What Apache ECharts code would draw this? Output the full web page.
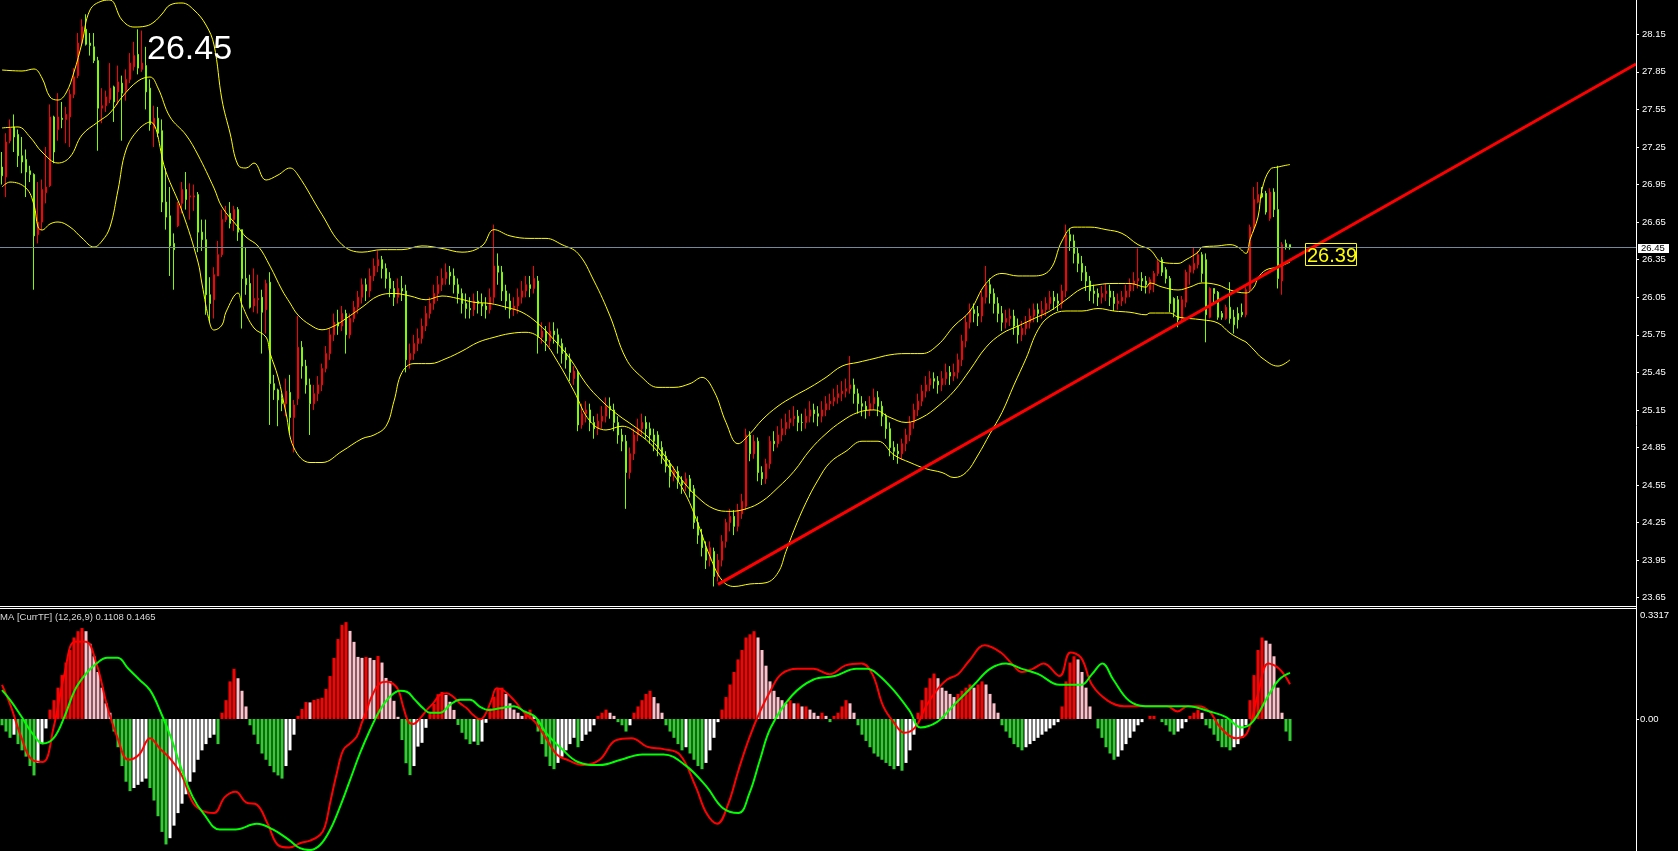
<!DOCTYPE html>
<html><head><meta charset="utf-8">
<script src="https://cdn.jsdelivr.net/npm/echarts@6/dist/echarts.min.js"></script>
<style>html,body{margin:0;padding:0;background:#000;overflow:hidden}#c{width:1678px;height:851px;}</style>
</head><body><div id="c"></div>
<script>
// candles: [open, close, low, high]
const candles = [
[27.09,27.02,26.95,27.21],[27.01,27.29,26.85,27.36],[27.30,27.40,27.28,27.47],[27.41,27.33,27.21,27.51],[27.35,27.18,27.09,27.39],
[27.18,27.13,27.04,27.33],[27.15,27.05,26.85,27.23],[27.06,27.03,26.97,27.10],[27.03,26.54,26.11,27.04],[26.55,26.65,26.48,26.97],
[26.65,26.91,26.59,26.99],[26.885,26.93,26.80,27.25],[26.94,27.49,26.93,27.59],[27.49,27.21,27.12,27.50],[27.39,27.49,27.30,27.68],
[27.48,27.47,27.40,27.61],[27.47,27.51,27.28,27.57],[27.49,27.67,27.25,27.71],[27.67,27.81,27.64,27.88],[27.82,28.08,27.80,28.16],
[28.08,28.21,28.06,28.27],[28.19,28.07,28.06,28.31],[28.08,28.06,27.98,28.16],[28.05,27.94,27.92,28.16],[27.94,27.56,27.22,27.97],
[27.56,27.58,27.44,27.72],[27.58,27.65,27.53,27.70],[27.63,27.72,27.60,27.92],[27.73,27.61,27.45,27.74],[27.69,27.77,27.59,27.90],
[27.76,27.68,27.30,27.82],[27.70,27.79,27.62,27.87],[27.79,27.92,27.76,28.00],[27.89,27.98,27.86,28.09],[27.99,27.88,27.83,28.19],
[27.87,27.92,27.85,28.18],[27.90,27.69,27.55,28.05],[27.72,27.43,27.38,27.79],[27.40,27.48,27.25,27.58],[27.48,27.36,27.33,27.57],
[27.38,26.81,26.73,27.47],[26.81,26.69,26.59,27.08],[26.70,26.46,26.22,26.93],[26.48,26.43,26.11,26.56],[26.62,26.79,26.61,26.81],
[26.80,26.91,26.72,26.97],[26.91,26.83,26.75,27.05],[26.85,26.86,26.67,26.96],[26.85,26.86,26.74,26.95],[26.87,26.57,26.41,26.89],
[26.57,26.51,26.42,26.67],[26.51,26.07,25.91,26.67],[26.07,26.00,25.85,26.21],[26.03,26.23,25.88,26.29],[26.22,26.39,26.22,26.50],
[26.39,26.67,26.37,26.75],[26.67,26.70,26.65,26.78],[26.72,26.64,26.60,26.81],[26.67,26.75,26.58,26.78],[26.75,26.57,26.50,26.77],
[26.59,26.20,25.80,26.59],[26.20,26.15,26.07,26.45],[26.16,25.97,25.96,26.23],[25.98,26.04,25.93,26.28],[26.03,26.04,25.92,26.23],
[26.05,25.93,25.60,26.11],[25.95,26.16,25.76,26.19],[26.17,25.36,25.03,26.25],[25.36,25.31,25.23,25.43],[25.31,25.23,25.02,25.32],
[25.24,25.20,25.14,25.28],[25.20,25.30,25.10,25.40],[25.29,25.09,24.96,25.43],[25.09,25.19,24.81,25.23],[25.24,25.65,25.19,25.90],
[25.65,25.50,25.40,25.70],[25.50,25.35,25.28,25.55],[25.35,25.20,24.95,25.40],[25.20,25.28,25.15,25.35],[25.28,25.35,25.22,25.42],
[25.35,25.48,25.30,25.52],[25.48,25.60,25.45,25.66],[25.60,25.75,25.55,25.80],[25.75,25.85,25.70,25.92],[25.85,25.82,25.75,25.95],
[25.82,25.92,25.78,25.98],[25.92,25.75,25.60,25.95],[25.75,25.88,25.72,25.92],[25.88,25.97,25.85,26.02],[25.97,26.05,25.92,26.10],
[26.05,26.15,26.00,26.20],[26.15,26.10,26.02,26.20],[26.10,26.22,26.05,26.28],[26.22,26.30,26.18,26.36],[26.30,26.35,26.25,26.42],
[26.35,26.28,26.20,26.38],[26.28,26.20,26.12,26.32],[26.20,26.12,26.05,26.25],[26.12,26.05,25.98,26.18],[26.05,26.12,26.00,26.20],
[26.12,26.10,26.02,26.22],[26.10,25.55,25.45,26.15],[25.55,25.60,25.48,25.68],[25.60,25.68,25.55,25.75],[25.68,25.72,25.62,25.80],
[25.72,25.82,25.68,25.88],[25.82,25.92,25.78,25.98],[25.92,26.00,25.88,26.05],[26.00,26.08,25.95,26.15],[26.08,26.15,26.02,26.22],
[26.15,26.20,26.10,26.28],[26.20,26.25,26.15,26.32],[26.25,26.22,26.15,26.30],[26.22,26.15,26.08,26.28],[26.15,26.08,26.00,26.20],
[26.08,26.00,25.92,26.12],[26.00,25.96,25.88,26.08],[25.96,25.95,25.88,26.05],[25.95,26.02,25.90,26.08],[26.02,26.00,25.92,26.10],
[26.00,25.98,25.90,26.08],[25.98,25.95,25.88,26.05],[25.95,26.05,25.92,26.12],[26.05,26.30,26.00,26.63],[26.30,26.25,26.15,26.40],
[26.25,26.10,26.02,26.30],[26.10,26.02,25.95,26.15],[26.02,25.95,25.88,26.08],[25.95,25.98,25.90,26.05],[25.98,26.05,25.92,26.12],
[26.05,26.10,26.00,26.18],[26.10,26.15,26.05,26.22],[26.15,26.12,26.05,26.22],[26.12,26.20,26.08,26.30],[26.18,25.73,25.60,26.22],
[25.73,25.78,25.68,25.85],[25.78,25.70,25.62,25.82],[25.70,25.78,25.65,25.85],[25.78,25.75,25.68,25.85],[25.75,25.68,25.60,25.80],
[25.68,25.60,25.52,25.72],[25.60,25.55,25.48,25.65],[25.55,25.45,25.38,25.60],[25.40,25.46,25.35,25.50],[25.45,25.03,24.98,25.47],
[25.03,25.12,25.00,25.20],[25.12,25.15,25.05,25.22],[25.15,25.05,24.98,25.20],[25.05,25.00,24.92,25.10],[25.00,25.06,24.95,25.12],
[25.06,25.10,25.00,25.18],[25.10,25.18,25.05,25.25],[25.18,25.15,25.08,25.25],[25.15,25.05,24.98,25.20],[25.05,24.95,24.88,25.10],
[24.95,24.90,24.82,25.00],[24.90,24.65,24.36,24.95],[24.65,24.80,24.60,24.85],[24.80,24.95,24.75,25.00],[24.95,25.00,24.90,25.08],
[25.00,25.05,24.95,25.12],[25.05,25.00,24.92,25.10],[25.00,24.95,24.88,25.05],[24.95,24.90,24.82,25.00],[24.95,24.85,24.78,24.98],
[24.85,24.78,24.72,24.90],[24.78,24.70,24.65,24.82],[24.72,24.62,24.53,24.75],[24.62,24.66,24.58,24.70],[24.66,24.58,24.52,24.70],
[24.58,24.55,24.48,24.62],[24.55,24.60,24.50,24.65],[24.60,24.50,24.45,24.63],[24.52,24.25,24.20,24.55],[24.25,24.15,24.08,24.30],
[24.15,24.05,23.98,24.20],[24.05,23.95,23.88,24.10],[23.95,24.05,23.90,24.10],[24.02,23.82,23.74,24.05],[23.82,23.95,23.78,24.00],
[23.95,24.10,23.90,24.15],[24.10,24.25,24.05,24.28],[24.25,24.30,24.18,24.36],[24.30,24.22,24.15,24.35],[24.22,24.35,24.18,24.40],
[24.32,24.42,24.28,24.48],[24.38,24.95,24.35,25.00],[24.95,24.80,24.74,24.98],[24.80,24.90,24.76,24.95],[24.90,24.65,24.58,24.93],
[24.65,24.60,24.55,24.70],[24.60,24.72,24.56,24.76],[24.72,24.90,24.68,24.94],[24.90,24.88,24.82,24.98],[24.88,24.95,24.85,25.02],
[24.95,25.00,24.90,25.08],[25.00,25.05,24.95,25.12],[25.05,25.08,25.00,25.15],[25.08,25.10,25.02,25.18],[25.10,25.05,24.98,25.15],
[25.05,25.05,24.98,25.12],[25.05,25.10,25.00,25.16],[25.10,25.15,25.05,25.22],[25.15,25.12,25.05,25.20],[25.12,25.10,25.02,25.18],
[25.10,25.15,25.05,25.22],[25.15,25.20,25.10,25.26],[25.20,25.22,25.15,25.28],[25.22,25.25,25.18,25.32],[25.25,25.28,25.20,25.35],
[25.28,25.30,25.22,25.38],[25.30,25.32,25.25,25.40],[25.32,25.35,25.28,25.58],[25.35,25.28,25.20,25.40],[25.28,25.20,25.12,25.32],
[25.20,25.18,25.10,25.26],[25.18,25.15,25.08,25.22],[25.15,25.20,25.10,25.26],[25.20,25.25,25.15,25.32],[25.25,25.18,25.10,25.30],
[25.18,25.10,25.02,25.22],[25.10,25.00,24.92,25.12],[25.00,24.85,24.78,25.05],[24.85,24.82,24.75,24.90],[24.82,24.80,24.72,24.88],
[24.80,24.88,24.75,24.92],[24.88,24.95,24.82,25.00],[24.95,25.05,24.90,25.10],[25.05,25.15,25.00,25.20],[25.15,25.22,25.10,25.28],
[25.22,25.30,25.18,25.35],[25.30,25.35,25.25,25.42],[25.35,25.40,25.30,25.46],[25.40,25.38,25.32,25.45],[25.38,25.35,25.28,25.42],
[25.35,25.40,25.30,25.46],[25.40,25.45,25.35,25.52],[25.45,25.42,25.35,25.50],[25.42,25.45,25.38,25.52],[25.45,25.55,25.40,25.60],
[25.55,25.70,25.50,25.75],[25.70,25.85,25.65,25.90],[25.85,25.95,25.80,26.00],[25.95,25.92,25.85,26.00],[25.92,25.90,25.82,25.98],
[25.90,26.05,25.85,26.10],[26.05,26.15,26.00,26.30],[26.15,26.08,26.00,26.20],[26.08,26.00,25.92,26.12],[26.00,25.92,25.85,26.05],
[25.92,25.85,25.78,25.98],[25.85,25.88,25.80,25.95],[25.88,25.90,25.82,25.96],[25.90,25.82,25.75,25.95],[25.82,25.75,25.68,25.88],
[25.75,25.80,25.70,25.86],[25.80,25.85,25.75,25.90],[25.85,25.90,25.80,25.96],[25.90,25.95,25.85,26.00],[25.95,25.92,25.85,26.00],
[25.92,25.95,25.88,26.02],[25.95,26.00,25.90,26.05],[26.00,26.05,25.95,26.10],[26.05,26.02,25.95,26.10],[26.02,26.00,25.94,26.08],
[26.00,26.10,25.96,26.15],[26.10,26.55,26.05,26.63],[26.55,26.50,26.42,26.60],[26.50,26.40,26.32,26.55],[26.40,26.32,26.25,26.45],
[26.32,26.25,26.18,26.38],[26.25,26.18,26.10,26.30],[26.18,26.10,26.02,26.22],[26.10,26.08,26.00,26.15],[26.08,26.05,25.98,26.12],
[26.05,26.08,26.00,26.14],[26.08,26.10,26.02,26.16],[26.10,26.05,25.98,26.15],[26.05,26.00,25.94,26.10],[26.00,26.02,25.95,26.08],
[26.02,26.05,25.98,26.10],[26.05,26.10,26.00,26.15],[26.10,26.15,26.05,26.20],[26.15,26.18,26.10,26.25],[26.18,26.20,26.12,26.44],
[26.20,26.18,26.10,26.25],[26.18,26.15,26.08,26.22],[26.11,26.19,26.08,26.21],[26.16,26.24,26.09,26.26],[26.24,26.33,26.22,26.35],
[26.35,26.25,26.22,26.37],[26.27,26.20,26.16,26.29],[26.20,26.00,25.93,26.22],[26.04,25.93,25.89,26.05],[26.03,25.87,25.81,26.06],
[25.88,26.03,25.85,26.06],[26.01,26.25,25.97,26.27],[26.25,26.30,26.15,26.31],[26.27,26.32,26.24,26.45],[26.31,26.39,26.28,26.42],
[26.39,26.24,26.17,26.41],[26.35,25.91,25.69,26.40],[25.89,26.12,25.88,26.13],[26.12,26.08,26.00,26.12],[26.09,25.89,25.87,26.10],
[25.92,25.89,25.87,25.94],[25.88,25.97,25.87,25.99],[25.97,25.88,25.84,26.17],[25.89,25.83,25.76,25.95],[25.92,25.87,25.80,25.97],
[25.93,25.91,25.89,26.00],[25.91,26.11,25.89,26.13],[26.11,26.61,26.09,26.63],[26.60,26.83,26.57,26.93],[26.81,26.87,26.80,26.97],
[26.88,26.85,26.84,26.93],[26.88,26.73,26.71,26.90],[26.68,26.89,26.66,26.92],[26.89,26.75,26.69,26.92],[26.75,26.20,26.12,27.10],
[26.18,26.47,26.07,26.49],[26.48,26.45,26.43,26.51],[26.47,26.45,26.43,26.47]
];
// Bollinger bands: [bar index, price]
const bbUpper = [[0,27.865],[5,27.857],[8,27.873],[10,27.801],[12,27.649],[14,27.625],[16,27.681],[18,27.849],[20,28.081],[22,28.344],[25,28.416],[27,28.424],[30,28.264],[33,28.208],[36,28.216],[38,28.248],[40,28.312],[42,28.384],[45,28.40],[48,28.344],[51,28.224],[53,28.065],[55,27.625],[57,27.362],[59,27.106],[61,27.082],[63,27.122],[66,26.986],[69,27.026],[72,27.082],[74,27.026],
[80,26.71],[85,26.47],[90,26.41],[95,26.43],[100,26.43],[105,26.46],[110,26.44],[115,26.41],[120,26.46],[123,26.59],[127,26.54],[132,26.52],[136,26.52],[140,26.47],[144,26.40],[148,26.18],[152,25.90],[156,25.56],[160,25.41],[164,25.33],[168,25.33],[172,25.36],[175,25.41],[178,25.30],[181,25.05],[184,24.88],[187,24.96],[190,25.07],[194,25.18],[198,25.26],[202,25.33],[206,25.41],[210,25.50],[214,25.53],[218,25.56],[222,25.59],[226,25.60],[230,25.60],[234,25.67],[238,25.82],[242,25.94],[246,26.16],[250,26.24],[254,26.22],[258,26.22],[262,26.27],[265,26.50],[268,26.61],[272,26.61],[276,26.59],[280,26.56],[284,26.47],
[287,26.43],[290,26.33],[294,26.32],[296,26.35],[299,26.41],[300,26.45],[304,26.46],[307,26.47],[309,26.45],[311,26.40],[312,26.51],[314,26.69],[315,26.91],[317,27.07],[319,27.09],[322,27.11]];
const bbMiddle = [[0,27.402],[4,27.410],[7,27.330],[10,27.210],[14,27.122],[17,27.170],[20,27.346],[24,27.450],[27,27.522],[30,27.649],[34,27.777],[37,27.809],[39,27.721],[42,27.490],[46,27.346],[49,27.186],[53,26.922],[55,26.771],[59,26.611],[61,26.531],[64,26.459],[67,26.299],[70,26.108],[72,26.004],[74,25.908],
[77,25.83],[80,25.79],[83,25.82],[86,25.88],[90,25.97],[94,26.06],[98,26.08],[102,26.06],[106,26.03],[110,26.06],[114,26.04],[118,26.01],[122,26.00],[126,25.97],[130,25.93],[134,25.84],[138,25.71],[142,25.56],[146,25.36],[150,25.22],[154,25.11],[158,25.02],[162,24.92],[166,24.77],[170,24.59],[174,24.45],[178,24.36],[182,24.34],[186,24.36],[190,24.42],[194,24.53],[198,24.66],[202,24.83],[206,24.96],[210,25.06],[214,25.13],[218,25.15],[222,25.09],[226,25.05],[230,25.09],[234,25.18],[238,25.30],[242,25.47],[246,25.65],[250,25.76],[254,25.82],[258,25.88],[262,25.94],[266,26.03],[270,26.12],[274,26.15],[278,26.16],[282,26.16],[286,26.13],
[287,26.164],[290,26.132],[294,26.108],[297,26.132],[300,26.164],[304,26.148],[307,26.108],[311,26.084],[313,26.132],[314,26.204],[316,26.268],[319,26.291],[322,26.331]];
const bbLower = [[0,26.930],[2,26.970],[6,26.922],[8,26.787],[9,26.611],[10,26.587],[12,26.635],[14,26.651],[17,26.611],[20,26.523],[23,26.451],[25,26.499],[27,26.611],[29,26.906],[31,27.226],[34,27.386],[37,27.450],[41,27.050],[45,26.739],[49,26.331],[50,26.156],[52,25.836],[53,25.788],[55,25.828],[56,25.932],[59,26.084],[60,25.988],[63,25.804],[66,25.732],[67,25.605],[69,25.413],[71,25.125],[73,24.846],
[77,24.73],[80,24.73],[85,24.82],[90,24.92],[93,24.95],[96,25.02],[98,25.22],[100,25.45],[103,25.52],[107,25.52],[111,25.56],[115,25.62],[119,25.69],[123,25.73],[127,25.76],[131,25.77],[135,25.71],[139,25.53],[143,25.30],[147,25.06],[151,24.99],[155,25.02],[159,24.96],[163,24.85],[167,24.68],[171,24.47],[174,24.24],[177,23.98],[180,23.79],[183,23.74],[187,23.76],[191,23.77],[194,23.85],[196,24.02],[198,24.19],[201,24.41],[204,24.59],[207,24.73],[211,24.82],[215,24.90],[219,24.90],[223,24.79],[227,24.73],[231,24.68],[235,24.65],[238,24.61],[241,24.65],[244,24.79],[247,24.96],[250,25.13],[253,25.35],[256,25.56],[259,25.79],[262,25.90],[266,25.94],[270,25.94],[274,25.96],[278,25.94],[282,25.93],[286,25.91],
[287,25.924],[292,25.924],[294,25.892],[300,25.87],[304,25.844],[307,25.764],[310,25.708],[311,25.692],[313,25.629],[315,25.565],[319,25.50],[322,25.55]];
// MACD histogram, one value per bar
const macdHist = [
-0.02,-0.04,-0.06,-0.05,-0.08,-0.10,-0.12,-0.15,-0.18,-0.14,-0.08,-0.03,
0.03,0.06,0.10,0.14,0.18,0.22,0.26,0.28,0.29,0.28,0.24,0.20,0.15,0.10,0.05,0.02,
-0.04,-0.09,-0.15,-0.20,-0.23,-0.22,-0.21,-0.20,-0.19,-0.22,-0.26,-0.31,-0.36,-0.40,-0.38,-0.34,-0.30,-0.27,-0.24,-0.20,-0.17,-0.13,-0.10,-0.08,-0.06,-0.05,-0.08,
0.02,0.06,0.12,0.16,0.13,0.09,0.04,
-0.02,-0.05,-0.08,-0.11,-0.13,-0.15,-0.17,-0.18,-0.19,-0.15,-0.10,-0.05,0.01,
0.032,0.054,0.053,0.061,0.064,0.068,0.096,0.137,0.195,0.255,0.300,0.309,0.281,0.246,0.198,0.195,0.198,0.195,0.188,0.201,0.180,0.131,0.121,0.058,0.007,-0.067,-0.141,-0.179,-0.150,-0.088,-0.076,-0.028,0.023,0.048,0.079,0.086,0.077,0.055,0.029,-0.019,-0.044,-0.065,-0.080,-0.072,-0.083,-0.072,-0.012,0.034,0.071,0.099,
0.10,0.08,0.05,0.03,0.02,0.01,0.02,0.03,0.01,
-0.04,-0.08,-0.12,-0.15,-0.16,-0.14,-0.12,-0.10,-0.08,-0.06,-0.09,-0.07,-0.05,-0.04,
-0.02,0.01,0.02,0.03,0.02,0.01,-0.01,-0.02,-0.04,-0.02,
0.02,0.04,0.06,0.08,0.09,0.07,0.05,0.02,
-0.02,-0.04,-0.06,-0.08,-0.10,-0.09,-0.11,-0.13,-0.15,-0.16,-0.14,-0.10,-0.06,-0.01,
0.03,0.07,0.11,0.15,0.19,0.22,0.26,0.27,0.28,0.26,0.22,0.17,0.12,0.09,0.07,0.06,0.05,
0.06,0.05,0.05,0.04,0.04,0.03,0.02,0.01,0.02,0.01,-0.01,0.01,0.02,0.04,0.06,0.05,0.02,
-0.02,-0.05,-0.07,-0.09,-0.11,-0.12,-0.13,-0.14,-0.15,-0.16,-0.15,-0.165,-0.14,-0.10,-0.05,
0.02,0.06,0.10,0.13,0.145,0.13,0.10,0.09,0.08,0.07,0.08,0.09,0.10,0.11,0.10,0.11,0.12,0.11,0.08,0.05,0.02,
-0.02,-0.04,-0.06,-0.08,-0.09,-0.10,-0.09,-0.08,-0.07,-0.06,-0.05,-0.04,-0.03,-0.02,-0.01,
0.04,0.12,0.18,0.20,0.19,0.15,0.10,0.04,
0.00,-0.03,-0.06,-0.09,-0.11,-0.13,-0.12,-0.10,-0.08,-0.06,-0.04,-0.02,
-0.01,0.00,0.01,0.01,0.00,-0.01,
-0.02,-0.04,-0.05,-0.04,-0.03,
-0.01,0.01,0.02,0.03,0.02,-0.02,-0.03,
-0.05,-0.07,-0.09,-0.09,-0.10,-0.09,-0.08,-0.06,
-0.02,0.06,0.14,0.22,0.26,0.25,0.24,0.20,0.10,0.02,-0.04,-0.07
];
const macdMain = [[0,0.109],[2.2,0.041],[4.9,-0.061],[7.5,-0.130],[10.2,-0.137],[12.9,-0.027],[15.6,0.143],[18.2,0.246],[20.9,0.246],[23.6,0.177],[26.3,0.041],[28.9,-0.061],[31.6,-0.130],[34.3,-0.113],[37,-0.061],[39.6,-0.096],[42.3,-0.130],[45,-0.181],[47.7,-0.266],[50.3,-0.294],[53,-0.300],[55.7,-0.249],[58.4,-0.232],[61,-0.266],[63.7,-0.273],[66.4,-0.334],[69.1,-0.403],[71.8,-0.410],[74.5,-0.396],[77,-0.388],[79.5,-0.370],[80.75,-0.343],[82,-0.269],[83.7,-0.173],[85.3,-0.099],[87,-0.078],[88.7,-0.056],[89.9,-0.014],[91.2,0.029],[92.4,0.071],[94.5,0.114],[96.2,0.119],[97.8,0.112],[99.1,0.092],[100.3,0.039],[101.6,-0.009],[102.8,-0.016],[104.5,0.002],[106.2,0.029],[107.8,0.050],[109.5,0.077],[111.2,0.082],[112.8,0.071],[114.5,0.050],[116.2,0.034],[117.8,0.013],[119.5,-0.001],[120.75,0.013],[122.4,0.061],[123.7,0.098],[125.5,0.09],[128,0.06],[130.6,0.02],[133.3,-0.01],[136,-0.061],[138.7,-0.113],[141.3,-0.130],[145.3,-0.147],[149.4,-0.130],[153.4,-0.068],[157.4,-0.061],[161.4,-0.089],[165.4,-0.096],[169.4,-0.113],[173.4,-0.215],[176.1,-0.300],[178.8,-0.334],[181.5,-0.273],[184.1,-0.164],[186.8,-0.061],[189.5,0.024],[192.2,0.092],[194.8,0.143],[198.9,0.160],[202.9,0.160],[206.9,0.143],[210.9,0.171],[214.9,0.177],[217.6,0.143],[220.3,0.041],[222.9,-0.010],[225.6,-0.044],[228.3,-0.027],[231,0.041],[233.7,0.092],[236.3,0.126],[239,0.143],[241.7,0.184],[245.7,0.235],[249.7,0.212],[252.4,0.177],[255,0.150],[257.7,0.160],[260.4,0.177],[264.4,0.137],[267.1,0.212],[269.8,0.195],[272.5,0.109],[276.5,0.058],[280.5,0.041],[284.5,0.041],[288.5,0.041],[291.2,0.041],[293.9,0.024],[296.5,0.041],[299.2,0.041],[301.9,0.024],[304.6,-0.027],[308.6,-0.061],[311.3,-0.044],[313.9,0.075],[316.6,0.177],[319.3,0.160],[322,0.111]];
const macdSignal = [[0,0.092],[2.2,0.058],[4.9,0.007],[7.5,-0.044],[10.2,-0.078],[12.9,-0.061],[15.6,0.007],[18.2,0.092],[20.9,0.143],[23.6,0.177],[26.3,0.195],[28.9,0.195],[31.6,0.160],[34.3,0.126],[37,0.092],[39.6,0.024],[42.3,-0.061],[45,-0.164],[47.7,-0.249],[50.3,-0.300],[54.4,-0.352],[58.4,-0.352],[63.7,-0.334],[67.7,-0.352],[71.8,-0.386],[74.5,-0.412],[77,-0.418],[79.5,-0.402],[82,-0.354],[84.5,-0.280],[87,-0.195],[89.5,-0.109],[92,-0.035],[94.5,0.029],[97,0.071],[99.5,0.090],[101.2,0.087],[103.25,0.061],[105.3,0.034],[107,0.020],[109.5,0.020],[112,0.045],[114.5,0.061],[117,0.061],[119.5,0.039],[121.6,0.029],[124.5,0.034],[128,0.041],[130.6,0.024],[133.3,0.007],[136,-0.044],[140,-0.096],[144,-0.137],[149.4,-0.147],[154.7,-0.130],[160.1,-0.113],[165.4,-0.113],[170.8,-0.147],[176.1,-0.215],[180.1,-0.283],[184.1,-0.300],[186.8,-0.239],[189.5,-0.130],[192.2,-0.027],[197.5,0.075],[202.9,0.126],[208.2,0.137],[213.6,0.160],[216.3,0.160],[218.9,0.143],[222.9,0.092],[227,0.024],[229.6,-0.027],[233.7,-0.010],[237.7,0.041],[243,0.109],[247,0.160],[251,0.177],[255,0.160],[259.1,0.143],[264.4,0.109],[269.8,0.109],[272.5,0.143],[275.1,0.177],[277.8,0.126],[281.8,0.058],[285.8,0.041],[291.2,0.041],[296.5,0.041],[301.9,0.024],[305.9,0.007],[309.9,-0.027],[312.6,-0.010],[316.6,0.075],[319.3,0.126],[322,0.147]];
const trendLine = [[179,23.757],[408.5,27.913]];
const priceTicks = [23.65,23.95,24.25,24.55,24.85,25.15,25.45,25.75,26.05,26.35,26.65,26.95,27.25,27.55,27.85,28.15];
const macdTicks = [0, 0.3317];
const lastPrice = 26.45;
const bigLabel = '26.45';
const trendLabel = '26.39';
const macdTitle = 'MA [CurrTF] (12,26,9) 0.1108 0.1465';
const SLOTS = 409;

const cats = Array.from({length: SLOTS}, (_, i) => String(i));
const histData = macdHist.map((v, i) => {
  const prev = i > 0 ? macdHist[i - 1] : v;
  let c;
  if (v >= 0) c = v >= prev ? '#ff0000' : '#ffc0cb';
  else c = v <= prev ? '#32cd32' : '#ffffff';
  return {value: v, itemStyle: {color: c}};
});

const chart = echarts.init(document.getElementById('c'), null, {renderer: 'canvas'});
const FONT = 'Liberation Sans';
const bandLine = (data) => ({type: 'line', xAxisIndex: 1, yAxisIndex: 0, data, smooth: 0.4, showSymbol: false, silent: true, z: 4,
  lineStyle: {color: '#ffff00', width: 1}});
chart.setOption({
  backgroundColor: '#000000',
  animation: false,
  grid: [
    {left: 0, top: 0, width: 1636, height: 605},
    {left: 0, top: 611, width: 1636, height: 240}
  ],
  xAxis: [
    {type: 'category', gridIndex: 0, data: cats, show: false},
    {type: 'value', gridIndex: 0, min: -0.5, max: SLOTS - 0.5, show: false},
    {type: 'category', gridIndex: 1, data: cats, show: false},
    {type: 'value', gridIndex: 1, min: -0.5, max: SLOTS - 0.5, show: false}
  ],
  yAxis: [
    {type: 'value', gridIndex: 0, position: 'right', min: 23.592, max: 28.424,
      splitLine: {show: false}, axisLine: {show: false, onZero: false},
      axisTick: {show: true, customValues: priceTicks, length: 3, lineStyle: {color: '#ffffff'}},
      axisLabel: {customValues: priceTicks, color: '#ffffff', fontSize: 9.5, fontFamily: FONT, margin: 6,
        formatter: v => v.toFixed(2)}},
    {type: 'value', gridIndex: 1, position: 'right', min: -0.4209, max: 0.3444,
      splitLine: {show: false}, axisLine: {show: false, onZero: false},
      axisTick: {show: true, customValues: [0], length: 3, lineStyle: {color: '#ffffff'}},
      axisLabel: {customValues: macdTicks, color: '#ffffff', fontSize: 9.5, fontFamily: FONT, margin: 4,
        formatter: v => v === 0 ? '0.00' : v.toFixed(4)}}
  ],
  series: [
    {type: 'candlestick', xAxisIndex: 0, yAxisIndex: 0, data: candles, barWidth: 2, z: 3,
      itemStyle: {color: '#ff0000', color0: '#7cfc00', borderColor: '#ff0000', borderColor0: '#7cfc00', borderColorDoji: '#7cfc00', borderWidth: 1},
      markLine: {symbol: 'none', silent: true, animation: false, label: {show: false},
        lineStyle: {color: '#778899', width: 1, type: 'solid'}, data: [{yAxis: lastPrice}]}},
    bandLine(bbUpper), bandLine(bbMiddle), bandLine(bbLower),
    {type: 'line', xAxisIndex: 1, yAxisIndex: 0, data: trendLine, showSymbol: false, silent: true, z: 6,
      lineStyle: {color: '#ff0000', width: 3}},
    {type: 'bar', xAxisIndex: 2, yAxisIndex: 1, data: histData, barWidth: 3, z: 2, silent: true},
    {type: 'line', xAxisIndex: 3, yAxisIndex: 1, data: macdMain, smooth: 0.4, showSymbol: false, silent: true, z: 4,
      lineStyle: {color: '#ff0000', width: 2}},
    {type: 'line', xAxisIndex: 3, yAxisIndex: 1, data: macdSignal, smooth: 0.4, showSymbol: false, silent: true, z: 5,
      lineStyle: {color: '#00ff00', width: 2}}
  ],
  graphic: [
    {type: 'line', silent: true, z: 100, shape: {x1: 1636.5, y1: 0, x2: 1636.5, y2: 851}, style: {stroke: '#ffffff', lineWidth: 1}},
    {type: 'line', silent: true, z: 100, shape: {x1: 0, y1: 606.5, x2: 1636, y2: 606.5}, style: {stroke: '#ffffff', lineWidth: 1}},
    {type: 'line', silent: true, z: 100, shape: {x1: 0, y1: 608.5, x2: 1636, y2: 608.5}, style: {stroke: '#ffffff', lineWidth: 1}},
    {type: 'text', silent: true, z: 100, x: 147, y: 50, style: {text: bigLabel, fill: '#ffffff', font: '34px "Liberation Sans"', textVerticalAlign: 'middle'}},
    {type: 'rect', silent: true, z: 100, shape: {x: 1305.5, y: 243.5, width: 51, height: 22}, style: {fill: 'none', stroke: '#ffff00', lineWidth: 1}},
    {type: 'text', silent: true, z: 100, x: 1307, y: 256, style: {text: trendLabel, fill: '#ffff00', font: '20px "Liberation Sans"', textVerticalAlign: 'middle'}},
    {type: 'rect', silent: true, z: 100, shape: {x: 1638, y: 244, width: 31, height: 9}, style: {fill: '#ffffff'}},
    {type: 'text', silent: true, z: 101, x: 1641, y: 248.5, style: {text: '26.45', fill: '#000000', font: '9.5px "Liberation Sans"', textVerticalAlign: 'middle'}},
    {type: 'text', silent: true, z: 100, x: 0, y: 617, style: {text: macdTitle, fill: '#d8d8d8', font: '9.5px "Liberation Sans"', textVerticalAlign: 'middle'}}
  ]
});
</script>
</body></html>
